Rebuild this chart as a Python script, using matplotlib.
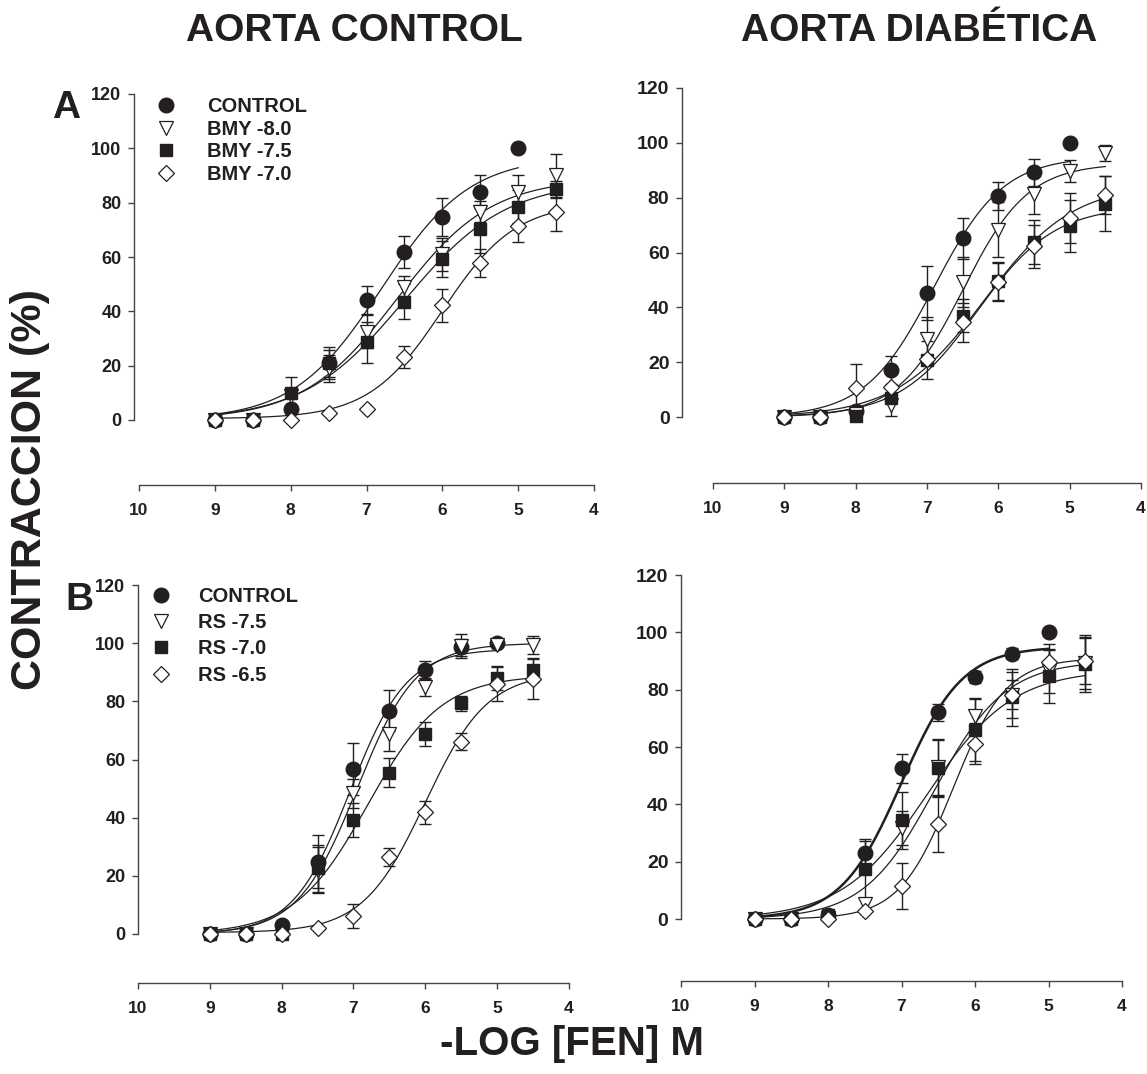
import numpy as np
import matplotlib
matplotlib.use('Agg')
import matplotlib.pyplot as plt
from matplotlib.lines import Line2D
from matplotlib import font_manager

# --- data ----------------------------------------------------------------
doses = [9, 8.5, 8, 7.5, 7, 6.5, 6, 5.5, 5, 4.5]

# panel A, aorta control (BMY)
a_ctrl = [0, 0, 3.9, 21, 44.2, 61.8, 74.7, 84, 100]
a_ctrl_err = [0, 0, 0, 6, 5, 6, 7, 6, 0]
a_bmy80 = [0, 0, 9, 19, 32.5, 49, 61, 76.7, 84, 90]
a_bmy80_err = [0, 0, 0, 5, 6, 4, 6, 4, 6, 8]
a_bmy75 = [0, 0, 9.8, 20.9, 28.6, 43.6, 59.3, 70.3, 78.5, 84.9]
a_bmy75_err = [0, 0, 6, 5, 7.5, 6.3, 6.5, 9, 6, 3]
a_bmy70 = [0, 0, 0, 2.5, 4.0, 23.1, 42.2, 57.8, 71.5, 76.7]
a_bmy70_err = [0, 0, 0, 0, 0, 4, 6, 5, 6, 7]

# panel A, aorta diabetica (BMY)
ad_ctrl = [0, 0, 2.1, 17.2, 45.2, 65.2, 80.6, 89.2, 100]
ad_ctrl_err = [0, 0, 0, 5, 10, 7.4, 5, 5, 0]
ad_bmy80 = [0, 0, 1, 4.3, 28.3, 49.2, 68.3, 81.2, 89.6, 96.2]
ad_bmy80_err = [0, 0, 0, 4, 8, 9, 10, 7, 4, 3]
ad_bmy75 = [0, 0, 0.5, 7.1, 20.9, 36.9, 49.5, 63.8, 69.8, 77.8]
ad_bmy75_err = [0, 0, 0, 0, 7, 6, 7, 8, 9.5, 10]
ad_bmy70 = [0, 0, 10.5, 11, 21.2, 34.5, 49.2, 62.2, 72.6, 81]
ad_bmy70_err = [0, 0, 9, 0, 0, 7, 7, 8, 9, 7]

# panel B, aorta control (RS)
b_ctrl = [0, 0, 3.1, 24.9, 56.7, 76.8, 90.8, 98.6, 100]
b_ctrl_err = [0, 0, 0, 9, 9, 7, 3, 3, 0]
b_rs75 = [0, 0, 0, 22, 48.4, 68.8, 85, 99, 99.4, 99.4]
b_rs75_err = [0, 0, 0, 8, 5, 6, 3, 4, 0, 3]
b_rs70 = [0, 0, 0, 22.6, 39.2, 55.5, 68.8, 79.3, 87.9, 90.8]
b_rs70_err = [0, 0, 0, 8, 6, 5, 4, 2.5, 4, 4]
b_rs65 = [0, 0, 0, 1.9, 6.2, 26.4, 41.8, 66.1, 86, 87.7]
b_rs65_err = [0, 0, 0, 0, 4, 3, 4, 3, 6, 7]

# panel B, aorta diabetica (RS)
bd_ctrl = [0, 0, 1.5, 22.9, 52.6, 72.1, 84.5, 92.6, 100]
bd_ctrl_err = [0, 0, 0, 5, 5, 3, 2, 2, 0]
bd_rs75 = [0, 0, 0.5, 5.3, 31.8, 52.9, 70.9, 78, 86.5, 89.4]
bd_rs75_err = [0, 0, 0, 0, 6, 10, 6, 8, 7.5, 9]
bd_rs70 = [0, 0, 1.5, 17.3, 34.4, 52.6, 66.1, 77.3, 84.7, 89.1]
bd_rs70_err = [0, 0, 0, 10, 10, 10, 11, 10, 9.5, 10]
bd_rs65 = [0, 0, 0, 2.7, 11.4, 33.2, 61.2, 78.2, 89.8, 90]
bd_rs65_err = [0, 0, 0, 0, 8, 10, 7, 5, 6, 8]

# fitted sigmoid curves: (top, pD2, slope, bottom)
a_fits = [(97, 6.8, 0.75, 0), (89, 6.6, 0.7, 0), (88, 6.5, 0.65, 0), (80, 6.0, 0.9, 0.5)]
ad_fits = [(95, 6.9, 0.9, 0), (92.5, 6.5, 0.95, 0), (77, 6.3, 0.8, 0), (85, 6.2, 0.7, 0)]
b_fits = [(98, 7.05, 1.1, 0), (100, 6.95, 1.05, 0), (89, 6.8, 0.85, 0), (90, 6.0, 1.0, 0.5)]
bd_fits = [(95, 7.0, 1.05, 0), (90, 6.55, 0.9, 0), (87, 6.65, 0.75, 0), (91, 6.3, 1.2, 0)]

labels_a = ['CONTROL', 'BMY -8.0', 'BMY -7.5', 'BMY -7.0']
labels_b = ['CONTROL', 'RS -7.5', 'RS -7.0', 'RS -6.5']
xticks = [10, 9, 8, 7, 6, 5, 4]
yticks = [0, 20, 40, 60, 80, 100, 120]

# --- style -----------------------------------------------------------------
names = {f.name for f in font_manager.fontManager.ttflist}
FONT = 'Liberation Sans' if 'Liberation Sans' in names else 'DejaVu Sans'
NARROW = 'Liberation Sans Narrow' if 'Liberation Sans Narrow' in names else FONT
plt.rcParams['font.family'] = FONT
plt.rcParams['font.weight'] = 'bold'
INK = '#231f20'

styles = [dict(marker='o', mfc=INK, mec=INK, ms=10.5),
          dict(marker='v', mfc='white', mec=INK, ms=10, mew=0.9),
          dict(marker='s', mfc=INK, mec=INK, ms=8.5),
          dict(marker='D', mfc='white', mec=INK, ms=8.5, mew=0.9)]

W, H = 1147, 1074
fig = plt.figure(figsize=(W / 100, H / 100), dpi=100)


def hill(x, top, pd2, n, bottom):
    return bottom + (top - bottom) / (1 + 10 ** (n * (x - pd2)))


def panel(spine_x, x10, x4, y120, y0, axis_y, series, errs, fits, ytick_size,
          thick_first=False):
    ppu_x = (x4 - x10) / 6
    ppu_y = (y0 - y120) / 120
    ax = fig.add_axes([spine_x / W, 1 - axis_y / H, (x4 - spine_x) / W,
                       (axis_y - y120) / H])
    ax.set_xlim(10 + (x10 - spine_x) / ppu_x, 4)
    ax.set_ylim(-(axis_y - y0) / ppu_y, 120)
    ax.patch.set_alpha(0)
    for s in ['top', 'right']:
        ax.spines[s].set_visible(False)
    ax.spines['left'].set_bounds(0, 120)
    ax.spines['bottom'].set_bounds(10, 4)
    for s in ['left', 'bottom']:
        ax.spines[s].set_color('#444444')
        ax.spines[s].set_linewidth(1.0)
    ax.set_xticks(xticks)
    ax.set_yticks(yticks)
    ax.tick_params(axis='y', direction='out', length=4, width=1, color='#444444',
                   labelsize=ytick_size, pad=5, labelcolor=INK)
    ax.tick_params(axis='x', direction='out', length=4, width=1, color='#444444',
                   labelsize=12.5, pad=9, labelcolor=INK)
    for lab in ax.get_xticklabels() + ax.get_yticklabels():
        lab.set_fontweight('bold')

    for i, (ys, es, fit, st) in enumerate(zip(series, errs, fits, styles)):
        xs = np.array(doses[:len(ys)])
        ys = np.array(ys, dtype=float)
        es = np.array(es, dtype=float)
        xc = np.linspace(xs[0], xs[-1], 300)
        lw = 1.8 if (thick_first and i == 0) else 0.9
        ax.plot(xc, hill(xc, *fit), color=INK, lw=lw, zorder=2)
        m = es > 0
        ax.errorbar(xs[m], ys[m], yerr=es[m], fmt='none', ecolor=INK,
                    elinewidth=1, capsize=4, capthick=1, zorder=3)
        ax.plot(xs, ys, ls='none', zorder=4 + i, clip_on=False, **st)
    return ax


ax1 = panel(134, 139, 594, 94, 420, 485,
            [a_ctrl, a_bmy80, a_bmy75, a_bmy70],
            [a_ctrl_err, a_bmy80_err, a_bmy75_err, a_bmy70_err], a_fits, 13)
ax2 = panel(682, 713, 1141, 88, 417, 483,
            [ad_ctrl, ad_bmy80, ad_bmy75, ad_bmy70],
            [ad_ctrl_err, ad_bmy80_err, ad_bmy75_err, ad_bmy70_err], ad_fits, 14)
ax3 = panel(138, 137, 569, 585, 934, 983,
            [b_ctrl, b_rs75, b_rs70, b_rs65],
            [b_ctrl_err, b_rs75_err, b_rs70_err, b_rs65_err], b_fits, 13)
ax4 = panel(681, 681, 1122, 575, 919, 981,
            [bd_ctrl, bd_rs75, bd_rs70, bd_rs65],
            [bd_ctrl_err, bd_rs75_err, bd_rs70_err, bd_rs65_err], bd_fits, 14,
            thick_first=True)

# legends
def handles():
    return [Line2D([], [], ls='none', **st) for st in styles]

leg_prop = dict(family=FONT, weight='bold', size=14.5)
fig.legend(handles(), labels_a, loc='upper left',
           bbox_to_anchor=(156 / W, 1 - 97 / H), frameon=False, prop=leg_prop,
           handlelength=1.0, handletextpad=1.55, labelspacing=0.18,
           borderpad=0, borderaxespad=0, labelcolor=INK)
fig.legend(handles(), labels_b, loc='upper left',
           bbox_to_anchor=(151 / W, 1 - 587 / H), frameon=False, prop=leg_prop,
           handlelength=1.0, handletextpad=1.35, labelspacing=0.36,
           borderpad=0, borderaxespad=0, labelcolor=INK)

# titles and labels
fig.text(354 / W, 1 - 31 / H, 'AORTA CONTROL', ha='center', va='center',
         family=NARROW, weight='bold', size=28, color=INK)
fig.text(919 / W, 1 - 31 / H, 'AORTA DIABÉTICA', ha='center', va='center',
         family=NARROW, weight='bold', size=28, color=INK)
fig.text(66 / W, 1 - 108 / H, 'A', ha='center', va='center', weight='bold',
         size=28, color=INK)
fig.text(79 / W, 1 - 600 / H, 'B', ha='center', va='center', weight='bold',
         size=28, color=INK)
fig.text(30 / W, 1 - 490 / H, 'CONTRACCION (%)', ha='center', va='center',
         rotation=90, weight='bold', size=31, color=INK)
fig.text(572 / W, 1 - 1044 / H, '-LOG [FEN] M', ha='center', va='center',
         weight='bold', size=29, color=INK)

fig.savefig('out.png', dpi=100)
